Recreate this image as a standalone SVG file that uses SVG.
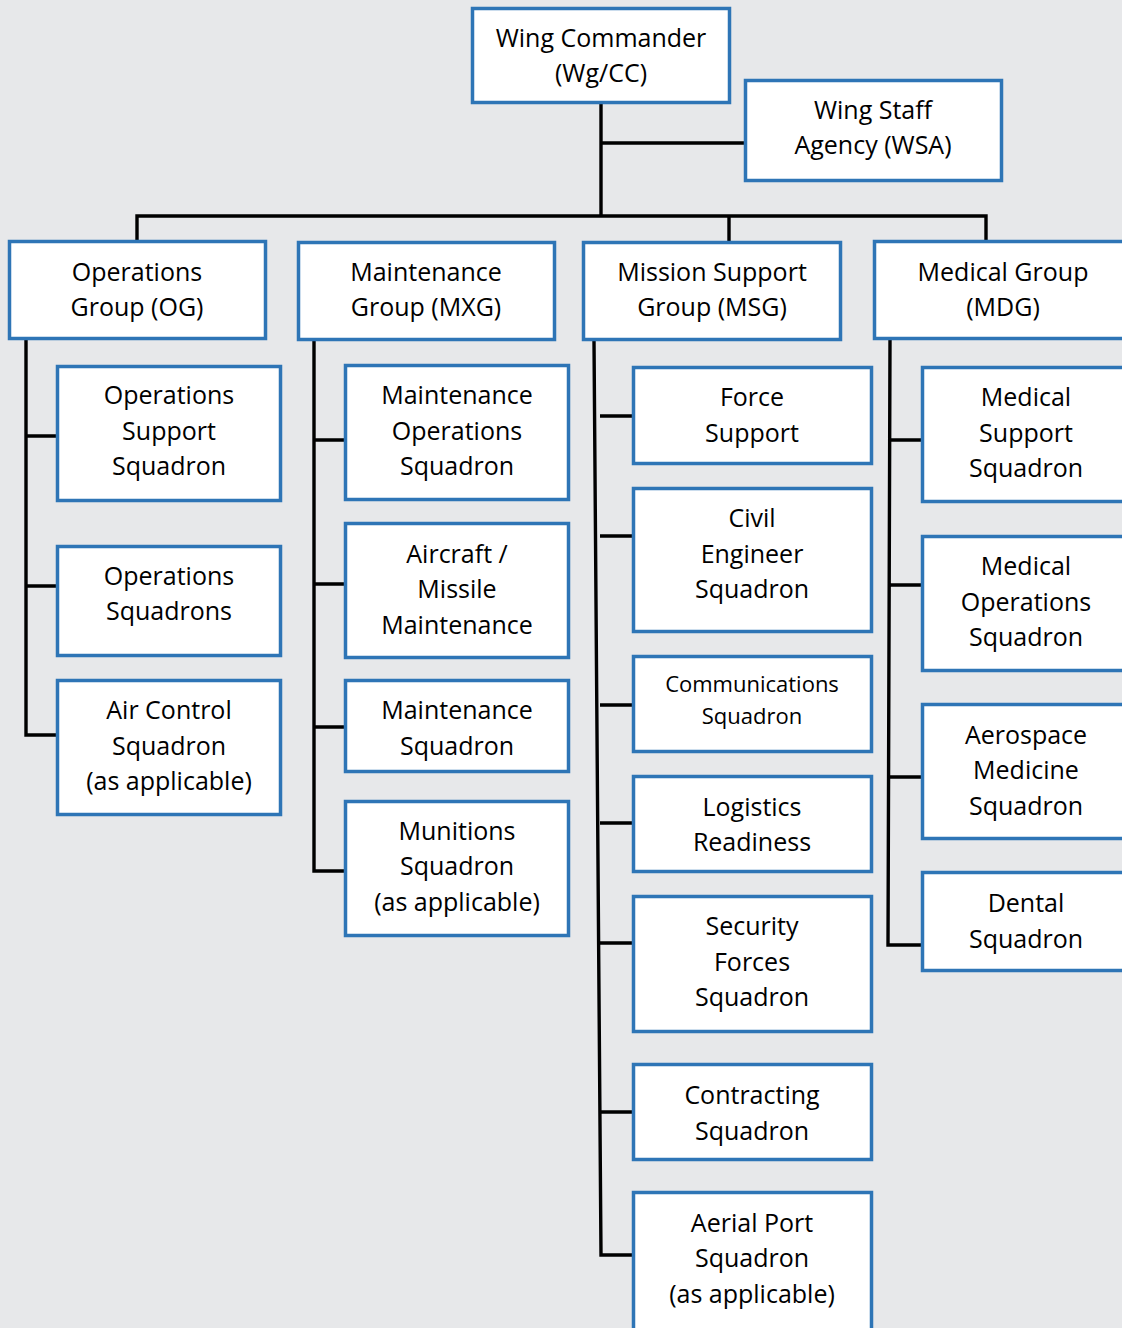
<svg xmlns="http://www.w3.org/2000/svg" width="1122" height="1328" viewBox="0 0 1122 1328">
<style>
.bx{fill:#fff;stroke:#2E75B6;stroke-width:3.5}
.t{font-family:"Open Sans","Noto Sans","Liberation Sans",sans-serif;font-size:25px;fill:#000;text-anchor:middle}
.s{font-size:22px}
.c{fill:none;stroke:#000;stroke-width:3.4;stroke-linejoin:miter}
</style>
<rect width="1122" height="1328" fill="#E7E8EA"/>
<g id="connectors">
<path class="c" d="M601 104V216M601 143H744"/>
<path class="c" d="M137 240V216H986V240M729 216V241"/>
<path class="c" d="M26 339V735H56M26 436H56M26 586H56"/>
<path class="c" d="M314 340V871H344M314 440H344M314 584H344M314 727H344"/>
<path class="c" d="M594 341L601 1255H632"/>
<path class="c" d="M600 416H632M600 536H632M600 705H632M600 823H632M600 943H632M600 1112H632"/>
<path class="c" d="M890 340L888 945H921M889 440H921M889 585H921M889 777H921"/>
</g>
<g id="wg_cc"><rect class="bx" x="472.5" y="8.5" width="257" height="94"/><text class="t" x="601" y="47">Wing Commander</text><text class="t" x="601" y="82">(Wg/CC)</text></g>
<g id="wsa"><rect class="bx" x="745.5" y="80.5" width="256" height="100"/><text class="t" x="873" y="119">Wing Staff</text><text class="t" x="873" y="154">Agency (WSA)</text></g>
<g id="og"><rect class="bx" x="9.5" y="241.5" width="256" height="97"/><text class="t" x="137" y="281">Operations</text><text class="t" x="137" y="316">Group (OG)</text></g>
<g id="mxg"><rect class="bx" x="298.5" y="242.5" width="256" height="97"/><text class="t" x="426" y="281">Maintenance</text><text class="t" x="426" y="316">Group (MXG)</text></g>
<g id="msg"><rect class="bx" x="583.5" y="242.5" width="257" height="97"/><text class="t" x="712" y="281">Mission Support</text><text class="t" x="712" y="316">Group (MSG)</text></g>
<g id="mdg"><rect class="bx" x="874.5" y="241.5" width="260" height="97"/><text class="t" x="1003" y="281">Medical Group</text><text class="t" x="1003" y="316">(MDG)</text></g>
<g id="oss"><rect class="bx" x="57.5" y="366.5" width="223" height="134"/><text class="t" x="169" y="404">Operations</text><text class="t" x="169" y="440">Support</text><text class="t" x="169" y="475">Squadron</text></g>
<g id="os"><rect class="bx" x="57.5" y="546.5" width="223" height="109"/><text class="t" x="169" y="585">Operations</text><text class="t" x="169" y="620">Squadrons</text></g>
<g id="acs"><rect class="bx" x="57.5" y="680.5" width="223" height="134"/><text class="t" x="169" y="719">Air Control</text><text class="t" x="169" y="755">Squadron</text><text class="t" x="169" y="790">(as applicable)</text></g>
<g id="mos"><rect class="bx" x="345.5" y="365.5" width="223" height="134"/><text class="t" x="457" y="404">Maintenance</text><text class="t" x="457" y="440">Operations</text><text class="t" x="457" y="475">Squadron</text></g>
<g id="amm"><rect class="bx" x="345.5" y="523.5" width="223" height="134"/><text class="t" x="457" y="563">Aircraft /</text><text class="t" x="457" y="598">Missile</text><text class="t" x="457" y="634">Maintenance</text></g>
<g id="mxs"><rect class="bx" x="345.5" y="680.5" width="223" height="91"/><text class="t" x="457" y="719">Maintenance</text><text class="t" x="457" y="755">Squadron</text></g>
<g id="muns"><rect class="bx" x="345.5" y="801.5" width="223" height="134"/><text class="t" x="457" y="840">Munitions</text><text class="t" x="457" y="875">Squadron</text><text class="t" x="457" y="911">(as applicable)</text></g>
<g id="fss"><rect class="bx" x="633.5" y="367.5" width="238" height="96"/><text class="t" x="752" y="406">Force</text><text class="t" x="752" y="442">Support</text></g>
<g id="ces"><rect class="bx" x="633.5" y="488.5" width="238" height="143"/><text class="t" x="752" y="527">Civil</text><text class="t" x="752" y="563">Engineer</text><text class="t" x="752" y="598">Squadron</text></g>
<g id="cs"><rect class="bx" x="633.5" y="656.5" width="238" height="95"/><text class="t s" x="752" y="692">Communications</text><text class="t s" x="752" y="724">Squadron</text></g>
<g id="lrs"><rect class="bx" x="633.5" y="776.5" width="238" height="95"/><text class="t" x="752" y="816">Logistics</text><text class="t" x="752" y="851">Readiness</text></g>
<g id="sfs"><rect class="bx" x="633.5" y="896.5" width="238" height="135"/><text class="t" x="752" y="935">Security</text><text class="t" x="752" y="971">Forces</text><text class="t" x="752" y="1006">Squadron</text></g>
<g id="cons"><rect class="bx" x="633.5" y="1064.5" width="238" height="95"/><text class="t" x="752" y="1104">Contracting</text><text class="t" x="752" y="1140">Squadron</text></g>
<g id="aps"><rect class="bx" x="633.5" y="1192.5" width="238" height="140"/><text class="t" x="752" y="1232">Aerial Port</text><text class="t" x="752" y="1267">Squadron</text><text class="t" x="752" y="1303">(as applicable)</text></g>
<g id="mdss"><rect class="bx" x="922.5" y="367.5" width="210" height="134"/><text class="t" x="1026" y="406">Medical</text><text class="t" x="1026" y="442">Support</text><text class="t" x="1026" y="477">Squadron</text></g>
<g id="mdos"><rect class="bx" x="922.5" y="536.5" width="210" height="134"/><text class="t" x="1026" y="575">Medical</text><text class="t" x="1026" y="611">Operations</text><text class="t" x="1026" y="646">Squadron</text></g>
<g id="amds"><rect class="bx" x="922.5" y="704.5" width="210" height="134"/><text class="t" x="1026" y="744">Aerospace</text><text class="t" x="1026" y="779">Medicine</text><text class="t" x="1026" y="815">Squadron</text></g>
<g id="ds"><rect class="bx" x="922.5" y="872.5" width="210" height="98"/><text class="t" x="1026" y="912">Dental</text><text class="t" x="1026" y="948">Squadron</text></g>
</svg>
